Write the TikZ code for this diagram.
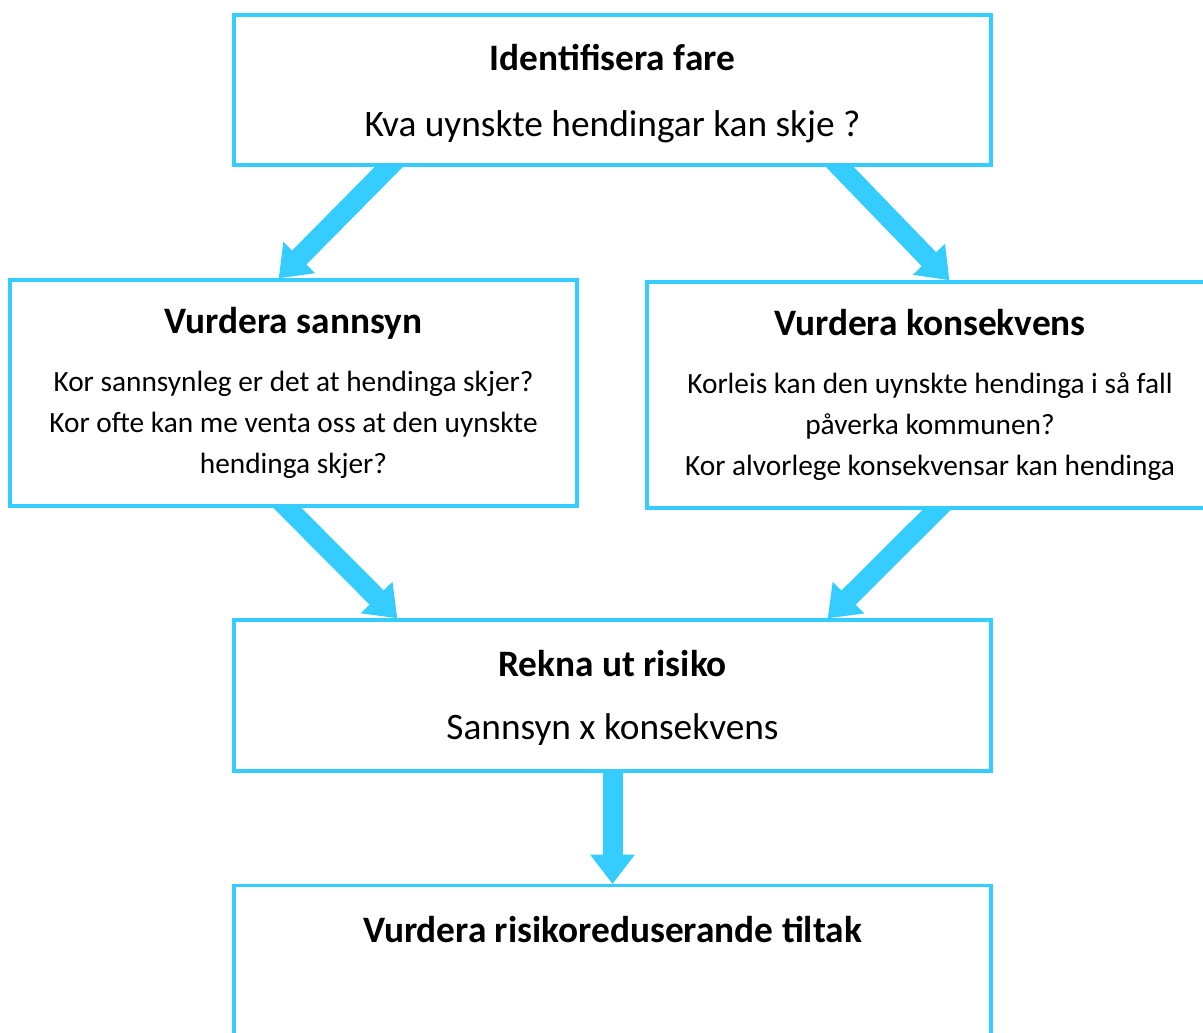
\documentclass[tikz,border=0pt]{standalone}
\usepackage{fontspec}
\setmainfont{Carlito}
\usetikzlibrary{arrows.meta,calc,backgrounds}

\definecolor{flowcyan}{RGB}{53,204,255}
\newcommand{\boxtitle}[1]{{\fontsize{28}{34}\selectfont\bfseries #1}}

\tikzset{
  stepbox/.style={draw=flowcyan, line width=2.5pt, fill=white, inner sep=0pt,
    align=center, font=\fontsize{22}{30.75}\selectfont},
  bigbox/.style={stepbox, font=\fontsize{28}{34}\selectfont},
  flowarrow/.style={color=flowcyan, line width=15pt,
    -{Triangle[width=32pt,length=22pt]}}
}

\begin{document}
\begin{tikzpicture}[x=0.75pt, y=0.75pt]
  \useasboundingbox (0,0) rectangle (1203,-1032);
  \clip (0,0) rectangle (1203,-1032);

  \node (fare) [bigbox, minimum width=567.75pt, minimum height=112.5pt] at (612.5,-90)
    {\rule{0pt}{25.6pt}\textbf{Identifisera fare}\\[15.5pt]Kva uynskte hendingar kan skje ?};
  \node (sannsyn) [stepbox, minimum width=425.25pt, minimum height=169.5pt] at (293.5,-393)
    {\boxtitle{Vurdera sannsyn}\\[12.85pt]Kor sannsynleg er det at hendinga skjer?\\
     Kor ofte kan me venta oss at den uynskte\\hendinga skjer?};
  \node (konsekvens) [stepbox, minimum width=424.5pt, minimum height=169.5pt] at (930,-395)
    {\boxtitle{Vurdera konsekvens}\\[12.85pt]Korleis kan den uynskte hendinga i så fall\\
     påverka kommunen?\\Kor alvorlege konsekvensar kan hendinga};
  \node (risiko) [bigbox, minimum width=567.75pt, minimum height=113.25pt] at (612.5,-695.5)
    {\rule{0pt}{23.6pt}\textbf{Rekna ut risiko}\\[13.25pt]Sannsyn x konsekvens};
  \node (tiltak) [bigbox, minimum width=567.75pt, text height=42.75pt, text depth=150pt,
    anchor=north] at (612.5,-884) {\textbf{Vurdera risikoreduserande tiltak}};

  % arrows behind the boxes
  \begin{scope}[on background layer]
    \draw[flowarrow] ($(fare.south west)!0.206!(fare.south east)+(10,10)$)
      -- ($(sannsyn.north west)!0.474!(sannsyn.north east)$);
    \draw[flowarrow] ($(fare.south west)!0.799!(fare.south east)+(-10,10)$)
      -- ($(konsekvens.north west)!0.534!(konsekvens.north east)$);
    \draw[flowarrow] ($(sannsyn.south west)!0.489!(sannsyn.south east)+(-10,10)$)
      -- ($(risiko.north west)!0.217!(risiko.north east)$);
    \draw[flowarrow] ($(konsekvens.south west)!0.512!(konsekvens.south east)+(10,10)$)
      -- ($(risiko.north west)!0.783!(risiko.north east)$);
    \draw[flowarrow] (risiko.south) -- (tiltak.north);
  \end{scope}
\end{tikzpicture}
\end{document}
